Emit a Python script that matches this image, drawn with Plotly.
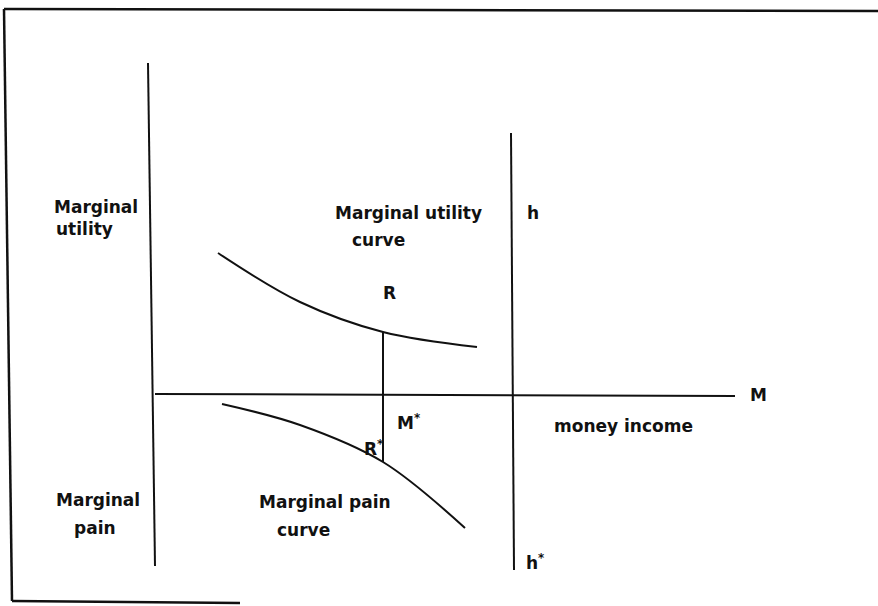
import plotly.graph_objects as go

# ---- data (diagram coordinates: origin at the intersection of the axes) ----
utility_x = [63, 145, 228, 322]
utility_y = [142, 93, 63, 48]

pain_x = [67, 145, 228, 310]
pain_y = [-9, -30, -67, -133]

r_x = 228          # money income M* where R and R' lie
r_top = 63
r_bottom = -67

h_x = 357          # position of the h–h' line
h_top = 262
h_bottom = -175

FONT = "DejaVu Sans"
BLACK = "#111111"

fig = go.Figure()

# utility curve
fig.add_trace(go.Scatter(x=utility_x, y=utility_y, mode="lines",
                         line=dict(color=BLACK, width=2, shape="spline", smoothing=1.0),
                         hoverinfo="skip", showlegend=False))
# pain curve
fig.add_trace(go.Scatter(x=pain_x, y=pain_y, mode="lines",
                         line=dict(color=BLACK, width=2, shape="spline", smoothing=1.0),
                         hoverinfo="skip", showlegend=False))
# R - R' vertical
fig.add_trace(go.Scatter(x=[r_x, r_x], y=[r_top, r_bottom], mode="lines",
                         line=dict(color=BLACK, width=2),
                         hoverinfo="skip", showlegend=False))

# axes and frame as line shapes
def seg(x0, y0, x1, y1, w=2):
    fig.add_shape(type="line", x0=x0, y0=y0, x1=x1, y1=y1, xref="x", yref="y",
                  line=dict(color=BLACK, width=w))

seg(-7, 332, 0, -171, 2)        # vertical axis
seg(0, 1, 580, -1, 2)           # horizontal axis
seg(h_x - 1, h_top, h_x + 2, h_bottom, 2)  # h - h'
# outer frame
seg(-151, 386, -143, -206, 2.5)
seg(-151, 386, 723, 384, 2.5)
seg(-143, -206, 85, -208, 2.5)

def label(text, x, y, xanchor="left", size=17):
    fig.add_annotation(x=x, y=y, text=text, showarrow=False, xref="x", yref="y",
                       xanchor=xanchor, yanchor="middle",
                       font=dict(family=FONT, size=size, color=BLACK, weight="bold"))

label("Marginal", -103, 188)
label("utility", -101, 166)
label("Marginal utility", 178, 182)
label("curve", 195, 155)
label("h", 370, 182)
label("R", 234, 102, xanchor="center")
label("M", 593, 0)
label("M<sup>*</sup>", 240, -27)
label("money income", 397, -31)
label("R<sup>*</sup>", 218, -53, xanchor="center")
label("Marginal", -101, -105)
label("pain", -83, -133)
label("Marginal pain", 102, -107)
label("curve", 120, -135)
label("h<sup>*</sup>", 369, -167)

fig.update_xaxes(range=[-155, 723], visible=False, fixedrange=True)
fig.update_yaxes(range=[-211, 395], visible=False, fixedrange=True)
fig.update_layout(width=878, height=606, margin=dict(l=0, r=0, t=0, b=0),
                  paper_bgcolor="white", plot_bgcolor="white")

fig.write_html("out.html", config={"displayModeBar": False},
               post_script="document.body.style.margin='0';document.body.style.overflow='hidden';")
